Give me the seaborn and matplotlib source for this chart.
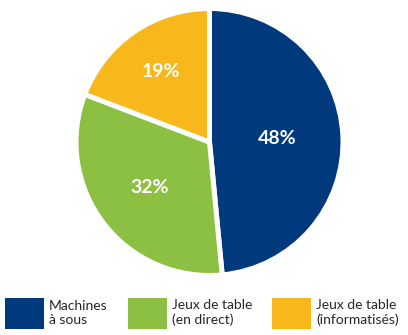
import matplotlib
matplotlib.use("Agg")
import matplotlib.pyplot as plt
from matplotlib.patches import Patch
import seaborn as sns
import numpy as np

categories = ["Machines\nà sous", "Jeux de table\n(en direct)", "Jeux de table\n(informatisés)"]
values = [48, 32, 19]
labels_pct = ["48%", "32%", "19%"]
colors = ["#003A7D", "#8CC043", "#F8B71A"]

sns.set_theme(style="white")
plt.rcParams['font.family'] = ['Lato', 'DejaVu Sans']

fig = plt.figure(figsize=(4.08, 3.35), dpi=100)
W, H = 408, 335
cx, cy, r = 209.5, 142, 133.5
ax = fig.add_axes([(cx - r) / W, (H - cy - r) / H, 2 * r / W, 2 * r / H])

wedges, _ = ax.pie(values, colors=colors, startangle=90, counterclock=False,
                   radius=1, wedgeprops=dict(edgecolor="white", linewidth=3.6))
ax.set_xlim(-1, 1)
ax.set_ylim(-1, 1)
ax.set_aspect("equal")
ax.axis("off")

dists = [0.51, 0.56, 0.64]
for w, lab, d in zip(wedges, labels_pct, dists):
    ang = np.deg2rad((w.theta1 + w.theta2) / 2)
    ax.text(d * np.cos(ang), d * np.sin(ang), lab, ha="center", va="center",
            color="white", fontsize=14, fontweight="bold")

legend_x = [5, 128, 272]
for c, lab, lx in zip(colors, categories, legend_x):
    leg = fig.legend([Patch(facecolor=c, edgecolor="none")], [lab],
                     loc="center left", bbox_to_anchor=(lx / W, (H - 313.5) / H),
                     frameon=False, fontsize=10, handlelength=2.8, handleheight=3.05,
                     handletextpad=0.36, borderaxespad=0, borderpad=0,
                     labelspacing=0.2)

fig.savefig("out.png", dpi=100)
